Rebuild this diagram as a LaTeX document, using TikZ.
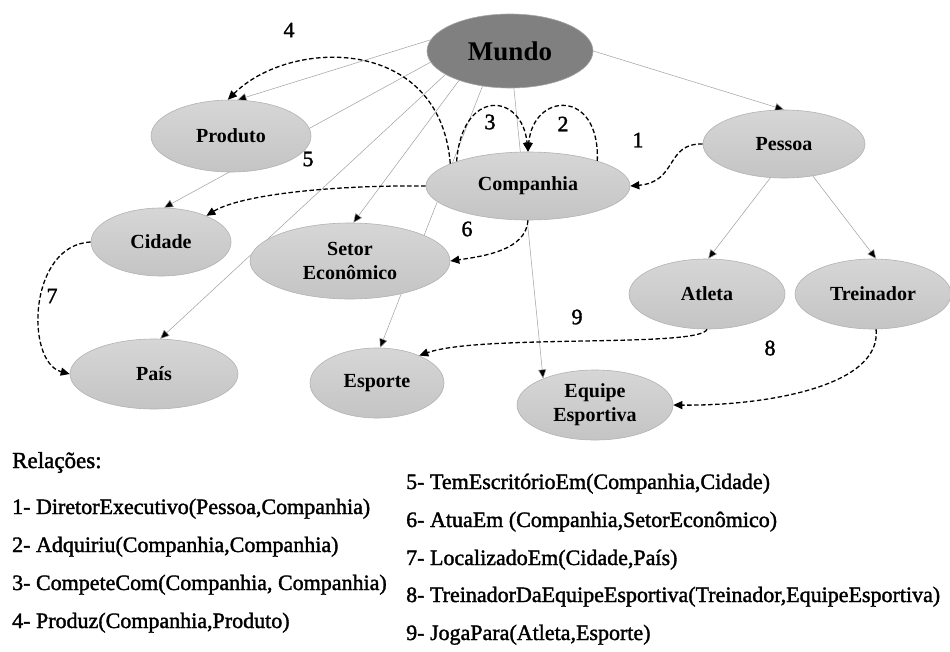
\documentclass[tikz,border=0pt]{standalone}
\usepackage{fontspec}
\setmainfont{Liberation Serif}
\newfontfamily\legfont[FakeBold=1.6]{Liberation Serif}
\usetikzlibrary{arrows.meta,shapes.geometric,backgrounds}
\begin{document}
\begin{tikzpicture}[x=1pt,y=-1pt,
  ent/.style={ellipse, draw=gray!60, line width=0.6pt, top color=gray!32, bottom color=gray!46, inner sep=0pt, align=center, font=\fontsize{20}{24}\selectfont\bfseries},
  thin/.style={draw=gray!75, line width=0.5pt, -{Triangle[length=9pt,width=8pt,fill=black]}},
  rel/.style={draw=black, line width=1.3pt, dash pattern=on 4.5pt off 2.5pt, -{Triangle[length=9pt,width=8pt]}},
  num/.style={font=\fontsize{22}{24}\selectfont\legfont},
  leg/.style={anchor=base west, inner sep=0pt, font=\fontsize{22}{24}\selectfont\legfont}
]
\useasboundingbox (0,0) rectangle (950,651);

\node[ent, minimum width=160pt, minimum height=72pt] (prod) at (231,136) {Produto};
\node[ent, minimum width=204pt, minimum height=68pt] (comp) at (528,186) {Companhia};
\node[ent, minimum width=162pt, minimum height=68pt] (pess) at (784,144) {Pessoa};
\node[ent, minimum width=140pt, minimum height=68pt] (cid) at (161,242) {Cidade};
\node[ent, minimum width=200pt, minimum height=76pt] (set) at (350,261) {Setor\\Econômico};
\node[ent, minimum width=168pt, minimum height=70pt] (pais) at (154,374) {País};
\node[ent, minimum width=134pt, minimum height=70pt] (esp) at (377,383) {Esporte};
\node[ent, minimum width=156pt, minimum height=70pt] (atl) at (707,294) {Atleta};
\node[ent, minimum width=156pt, minimum height=70pt] (tre) at (873,294) {Treinador};
\node[ent, minimum width=156pt, minimum height=70pt] (eq) at (595,405) {Equipe\\Esportiva};
\node[ellipse, draw=gray!70, line width=0.6pt, fill=gray, inner sep=0pt, minimum width=166pt, minimum height=74pt, font=\fontsize{27}{30}\selectfont\bfseries] (mundo) at (510,51) {Mundo};

% thin "is-a" connectors, behind the nodes
\begin{pgfonlayer}{background}
\fill[white] (0,0) rectangle (950,651);
\draw[thin] (mundo.172) -- (prod.80);
\draw[thin] (mundo.188) -- (cid.85);
\draw[thin] (mundo.200) -- (pais.80);
\draw[thin] (mundo.210) -- (set.85);
\draw[thin] (mundo.232) -- (esp.85);
\draw[thin] (mundo.-84) -- (eq.153);
\draw[thin] (mundo.east) -- (pess.90);
\draw[thin] (pess.-112) -- (atl.88);
\draw[thin] (pess.-48) -- (tre.85);
\end{pgfonlayer}

% relations (dashed)
\draw[rel] (pess.west) .. controls (665,143) and (678,182) .. (comp.east);
\draw[rel] (comp.20) .. controls (600,88) and (533,92) .. (comp.north);
\draw[rel] (comp.161) .. controls (462,88) and (522,92) .. (comp.north);
\draw[rel] (comp.164) .. controls (440,35) and (290,38) .. (prod.95);
\draw[rel] (comp.west) .. controls (330,185) and (240,195) .. (cid.30);
\draw[rel] (comp.south) .. controls (526,250) and (485,256) .. (set.east);
\draw[rel] (cid.west) .. controls (28,245) and (25,362) .. (pais.west);
\draw[rel] (tre.-85) .. controls (882,388) and (760,406) .. (eq.east);
\draw[rel] (atl.-90) .. controls (700,348) and (480,334) .. (esp.33);

% relation numbers
\node[num] (n1) at (638,140) {1};
\node[num] (n2) at (563,124) {2};
\node[num] (n3) at (490,122) {3};
\node[num] (n4) at (289,30) {4};
\node[num] (n5) at (308,159) {5};
\node[num] (n6) at (467,229) {6};
\node[num] (n7) at (52,296) {7};
\node[num] (n8) at (770,348) {8};
\node[num] (n9) at (577,317) {9};

% legend
\node[leg, font=\fontsize{23}{25}\selectfont\legfont] (lt) at (12,468) {Relações:};
\node[leg] (l1) at (12,514) {1- DiretorExecutivo(Pessoa,Companhia)};
\node[leg] (l2) at (12,552) {2- Adquiriu(Companhia,Companhia)};
\node[leg] (l3) at (12,590) {3- CompeteCom(Companhia, Companhia)};
\node[leg] (l4) at (12,628) {4- Produz(Companhia,Produto)};
\node[leg] (l5) at (406,489) {5- TemEscritórioEm(Companhia,Cidade)};
\node[leg] (l6) at (406,527) {6- AtuaEm (Companhia,SetorEconômico)};
\node[leg] (l7) at (406,565) {7- LocalizadoEm(Cidade,País)};
\node[leg] (l8) at (406,602) {8- TreinadorDaEquipeEsportiva(Treinador,EquipeEsportiva)};
\node[leg] (l9) at (406,640) {9- JogaPara(Atleta,Esporte)};
\end{tikzpicture}
\end{document}
